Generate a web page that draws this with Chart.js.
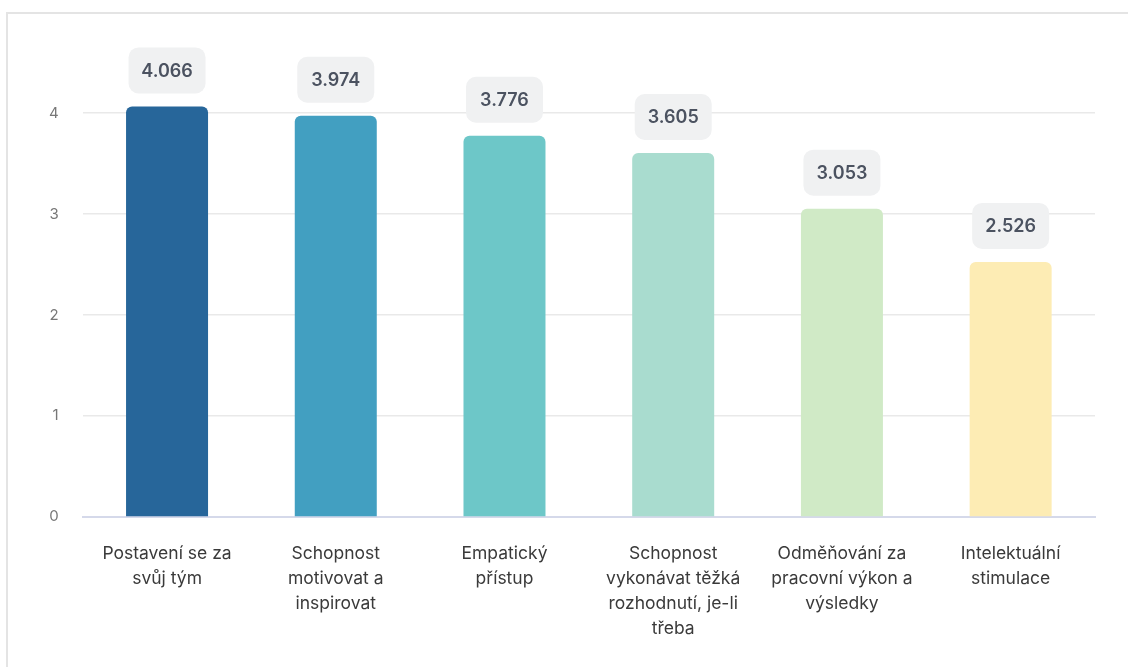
<!DOCTYPE html>
<html>
<head>
<meta charset="utf-8">
<script src="https://cdn.jsdelivr.net/npm/chart.js@4"></script>
<style>
    body { margin: 0; background: #fff; }
    .frame {
        position: absolute; left: 6px; top: 12px;
        width: 1200px; height: 700px;
        border: 2px solid #e4e4e4;
    }
    .wrap { position: absolute; left: 0; top: 0; width: 1128px; height: 667px; }
</style>
</head>
<body>
<div class="frame"></div>
<div class="wrap"><canvas id="barChart"></canvas></div>
<script>
// Kategorie (popisky osy X, po řádcích)
const categories = [
    ['Postavení se za', 'svůj tým'],
    ['Schopnost', 'motivovat a', 'inspirovat'],
    ['Empatický', 'přístup'],
    ['Schopnost', 'vykonávat těžká', 'rozhodnutí, je-li', 'třeba'],
    ['Odměňování za', 'pracovní výkon a', 'výsledky'],
    ['Intelektuální', 'stimulace']
];
// Průměrné hodnoty
const values = [4.066, 3.974, 3.776, 3.605, 3.053, 2.526];
// Barvy sloupců
const barColors = ['#27669a', '#429fc1', '#6dc7c8', '#a9dccf', '#d0eac6', '#fdecb4'];
const yTicks = [0, 1, 2, 3, 4];

// Popisky hodnot v zaoblených bublinách nad sloupci
const valueBubbles = {
    id: 'valueBubbles',
    afterDatasetsDraw(chart) {
        const ctx = chart.ctx;
        const meta = chart.getDatasetMeta(0);
        ctx.save();
        ctx.font = '600 18px Inter, sans-serif';
        ctx.textAlign = 'center';
        ctx.textBaseline = 'middle';
        meta.data.forEach((bar, i) => {
            const w = 77, h = 46;
            const x = bar.x - w / 2;
            const y = bar.y - 13 - h;
            ctx.fillStyle = '#f0f1f2';
            ctx.beginPath();
            ctx.roundRect(x, y, w, h, 10);
            ctx.fill();
            ctx.fillStyle = '#4b5260';
            ctx.fillText(values[i].toFixed(3), bar.x, y + h / 2 + 1);
        });
        ctx.restore();
    }
};

const ctx = document.getElementById('barChart').getContext('2d');
new Chart(ctx, {
    type: 'bar',
    data: {
        labels: categories,
        datasets: [{
            data: values,
            backgroundColor: barColors,
            borderRadius: { topLeft: 6, topRight: 6 },
            borderSkipped: 'bottom',
            barPercentage: 0.486,
            categoryPercentage: 1
        }]
    },
    options: {
        responsive: true,
        maintainAspectRatio: false,
        animation: false,
        layout: { padding: { top: 103, right: 33, left: 25, bottom: 2 } },
        plugins: {
            legend: { display: false },
            tooltip: { enabled: false }
        },
        scales: {
            y: {
                min: 0,
                max: 4.1,
                afterBuildTicks: scale => {
                    scale.ticks = yTicks.map(v => ({ value: v }));
                },
                grid: { color: '#e9e9e9', lineWidth: 1.5, drawTicks: false },
                border: { display: false },
                ticks: {
                    color: '#777',
                    padding: 24,
                    font: { family: 'Inter', size: 15 }
                }
            },
            x: {
                grid: { display: false, drawTicks: false },
                border: { color: '#d5d9ea', width: 2 },
                ticks: {
                    color: '#3a3a3a',
                    padding: 24,
                    maxRotation: 0,
                    autoSkip: false,
                    font: { family: 'Inter', size: 17.5, lineHeight: 1.43 }
                }
            }
        }
    },
    plugins: [valueBubbles]
});
</script>
</body>
</html>
